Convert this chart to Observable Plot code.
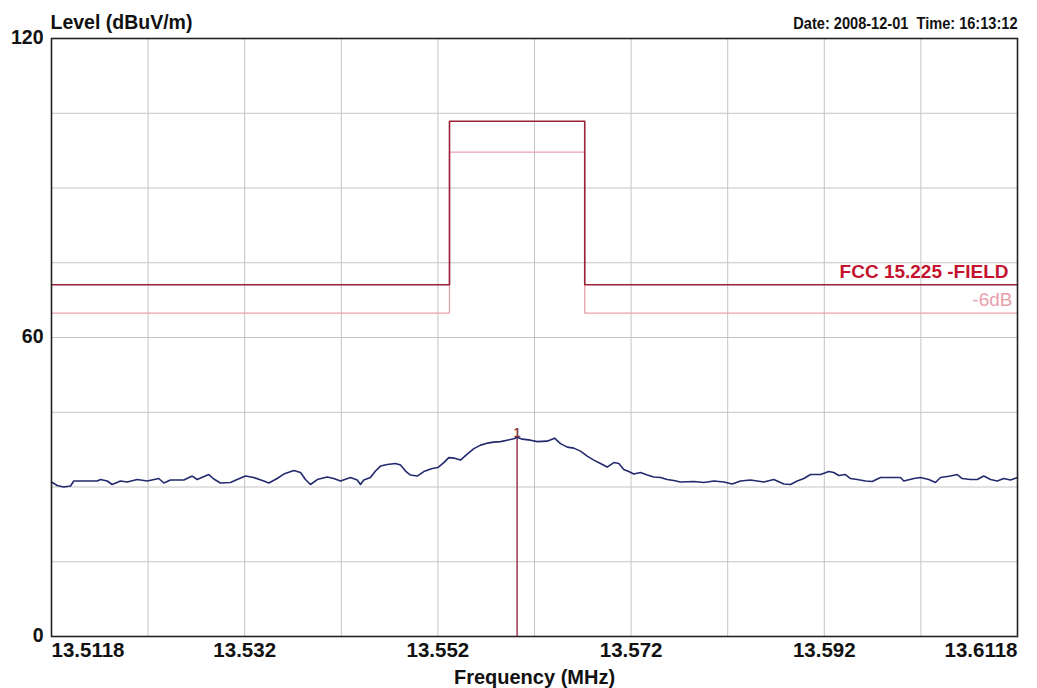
<!DOCTYPE html>
<html><head><meta charset="utf-8">
<script src="https://cdn.jsdelivr.net/npm/d3@7"></script>
<script src="https://cdn.jsdelivr.net/npm/@observablehq/plot@0.6"></script>
<style>body{margin:0;background:#fff;}</style>
</head><body><div id="chart"></div>
<script>
const traceFreq = [13.5118,13.51239,13.51307,13.51377,13.51411,13.51653,13.51687,13.51757,13.51808,13.51894,13.51964,13.52067,13.52171,13.52291,13.52343,13.52412,13.5255,13.52637,13.52688,13.52808,13.5286,13.52929,13.53033,13.53102,13.53188,13.53274,13.53378,13.5343,13.53516,13.53585,13.53688,13.53758,13.53809,13.53861,13.53931,13.54034,13.54102,13.54172,13.54275,13.54345,13.54379,13.54413,13.54482,13.54534,13.54586,13.54655,13.54741,13.54793,13.54845,13.54896,13.54966,13.55034,13.55121,13.55179,13.55241,13.55293,13.55345,13.55414,13.55483,13.55552,13.55621,13.5569,13.55759,13.55828,13.55897,13.55966,13.56,13.56053,13.56139,13.56208,13.56311,13.56387,13.56449,13.56519,13.56587,13.56656,13.56726,13.56794,13.56863,13.56933,13.57001,13.57053,13.57104,13.57156,13.57208,13.57277,13.57347,13.57415,13.57484,13.57554,13.57622,13.57691,13.57829,13.57933,13.58036,13.5814,13.58227,13.58313,13.58416,13.58554,13.58657,13.58761,13.5883,13.589,13.58968,13.59037,13.59141,13.59227,13.59278,13.5933,13.59399,13.59451,13.59521,13.59607,13.59676,13.59762,13.59969,13.60003,13.60107,13.60176,13.60262,13.60331,13.60383,13.60487,13.60556,13.60608,13.60693,13.60763,13.60831,13.60901,13.6097,13.61038,13.61108,13.6118];
const traceLevel = [31.0,30.3,30.0,30.2,31.2,31.2,31.5,31.2,30.5,31.2,31.0,31.5,31.2,31.7,30.8,31.4,31.4,32.2,31.5,32.5,31.6,30.8,30.9,31.5,32.2,31.9,31.2,30.8,31.7,32.6,33.3,32.9,31.5,30.5,31.5,32.0,31.7,31.2,31.9,31.4,30.5,31.4,31.9,33.2,34.2,34.5,34.7,34.4,33.2,32.4,32.2,33.1,33.7,33.9,34.9,35.9,35.8,35.4,36.6,37.7,38.4,38.8,39.0,39.1,39.4,39.7,40.0,39.6,39.4,39.1,39.2,39.8,38.7,38.0,37.8,37.2,36.2,35.4,34.7,34.0,34.9,34.7,33.5,33.1,32.6,32.9,32.4,32.0,31.9,31.5,31.3,31.0,31.1,30.9,31.2,31.0,30.6,31.2,31.4,31.0,31.5,30.6,30.5,31.2,31.7,32.5,32.5,33.1,32.9,32.3,32.5,31.7,31.5,31.2,31.1,31.9,31.9,31.2,31.7,31.9,31.5,30.9,31.9,32.2,32.5,31.7,31.5,31.5,32.2,31.5,31.2,31.7,31.4,31.9];

const limitFreq = [13.5118, 13.553, 13.567, 13.6118];
const limitLevel = [70.6, 103.4, 70.6, 70.6];
const limit6Level = [64.9, 97.2, 64.9, 64.9];
const limitName = "FCC 15.225 -FIELD";
const limit6Name = "-6dB";

const markerFreq = [13.56];
const markerLevel = [40.0];
const markerName = ["1"];

const gridFreq = [13.5118,13.5218,13.5318,13.5418,13.5518,13.5618,13.5718,13.5818,13.5918,13.6018,13.6118];
const gridLevel = [0,15,30,45,60,75,90,105,120];
const xTickValues = [13.5118,13.5318,13.5518,13.5718,13.5918,13.6118];
const xTickLabels = ["13.5118","13.532","13.552","13.572","13.592","13.6118"];
const yTickValues = [0,60,120];
const yTickLabels = ["0","60","120"];

const titleLeft = "Level (dBuV/m)";
const titleRight = "Date: 2008-12-01  Time: 16:13:12";
const xLabel = "Frequency (MHz)";

const font = '"Liberation Sans", Arial, sans-serif';
const trace = traceFreq.map((f, i) => ({f, v: traceLevel[i]}));
const lim = limitFreq.map((f, i) => ({f, v: limitLevel[i], v6: limit6Level[i]}));
const markers = markerFreq.map((f, i) => ({f, v: markerLevel[i], name: markerName[i]}));
const xt = xTickValues.map((v, i) => ({v, label: xTickLabels[i]}));
const yt = yTickValues.map((v, i) => ({v, label: yTickLabels[i]}));
const n = xt.length;

const chart = Plot.plot({
  width: 1037, height: 688,
  marginLeft: 51, marginRight: 20, marginTop: 38, marginBottom: 52,
  x: {domain: [13.5118, 13.6118], axis: null},
  y: {domain: [0, 120], axis: null},
  style: {fontFamily: font, background: "#fff", color: "#111"},
  marks: [
    Plot.gridX(gridFreq, {stroke: "#c4c4c4", strokeOpacity: 1, strokeWidth: 1}),
    Plot.gridY(gridLevel, {stroke: "#c4c4c4", strokeOpacity: 1, strokeWidth: 1}),
    Plot.line(lim, {x: "f", y: "v6", curve: "step-after", stroke: "#e8a3ad", strokeWidth: 1.3}),
    Plot.line(lim, {x: "f", y: "v", curve: "step-after", stroke: "#9b2237", strokeWidth: 1.6}),
    Plot.ruleX(markers, {x: "f", y1: d => 0, y2: "v", stroke: "#9a2a45", strokeWidth: 1.4}),
    Plot.line(trace, {x: "f", y: "v", stroke: "#232a6e", strokeWidth: 1.6}),
    Plot.text(markers, {x: "f", y: "v", text: "name", dy: 0, fontSize: 12, fontWeight: "bold", fill: "#8e3a3a", lineAnchor: "bottom"}),
    Plot.frame({stroke: "#222", strokeWidth: 1.6}),
    Plot.text([{v: limitLevel[limitLevel.length - 1], t: limitName}], {y: "v", text: "t", frameAnchor: "right", dx: -9, dy: -7, textAnchor: "end", lineAnchor: "bottom", fill: "#c4122f", fontWeight: "bold", fontSize: 19}),
    Plot.text([{v: limit6Level[limit6Level.length - 1], t: limit6Name}], {y: "v", text: "t", frameAnchor: "right", dx: -5, dy: -7, textAnchor: "end", lineAnchor: "bottom", fill: "#e9a0ab", fontSize: 19, letterSpacing: "1px"}),
    Plot.text(yt, {y: "v", text: "label", frameAnchor: "left", dx: -8, dy: -1, textAnchor: "end", fontWeight: "bold", fontSize: 19.5}),
    Plot.text(xt.slice(0, 1), {x: "v", text: "label", frameAnchor: "bottom", dy: 6, textAnchor: "start", lineAnchor: "top", fontWeight: "bold", fontSize: 20.5}),
    Plot.text(xt.slice(1, n - 1), {x: "v", text: "label", frameAnchor: "bottom", dy: 6, textAnchor: "middle", lineAnchor: "top", fontWeight: "bold", fontSize: 20.5}),
    Plot.text(xt.slice(n - 1), {x: "v", text: "label", frameAnchor: "bottom", dy: 6, textAnchor: "end", lineAnchor: "top", fontWeight: "bold", fontSize: 20.5}),
    Plot.text([titleLeft], {frameAnchor: "top-left", dx: -1, dy: -10, textAnchor: "start", lineAnchor: "bottom", fontWeight: "bold", fontSize: 19.5}),
    Plot.text([titleRight], {frameAnchor: "top-right", dy: -10, textAnchor: "end", lineAnchor: "bottom", fontWeight: "bold", fontSize: 16.2, className: "datetext"}),
    Plot.text([xLabel], {frameAnchor: "bottom", dy: 47, textAnchor: "middle", lineAnchor: "bottom", fontWeight: "bold", fontSize: 20})
  ]
});
// condense the date/time header horizontally around its right edge, as in the reference
d3.select(chart).selectAll("g.datetext").each(function () {
  const g = d3.select(this);
  const t = g.attr("transform") || "";
  g.attr("transform", `${t} translate(1017,0) scale(0.9,1) translate(-1017,0)`);
});
document.getElementById("chart").appendChild(chart);
</script>
</body></html>
